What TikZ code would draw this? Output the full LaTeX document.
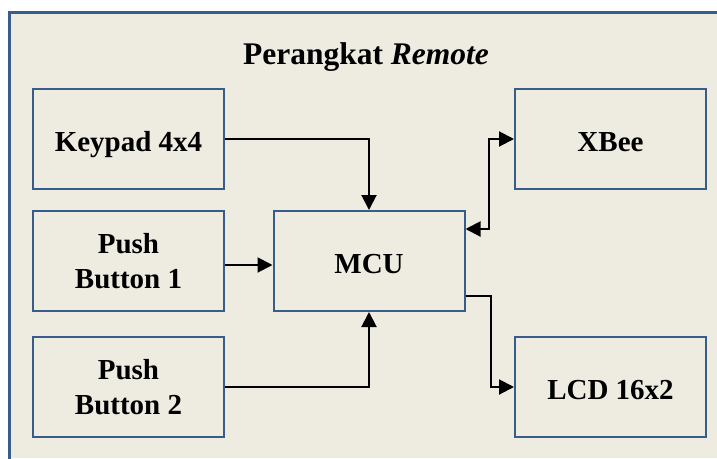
\documentclass[tikz,border=0pt]{standalone}
\usepackage{fontspec}
\setmainfont{Liberation Serif}
\usetikzlibrary{arrows.meta}
\definecolor{bgtan}{HTML}{EEECE1}
\definecolor{frameblue}{HTML}{385D8A}
\begin{document}
\begin{tikzpicture}[x=1pt,y=-1pt,
  blockbox/.style={draw=frameblue,line width=2pt,minimum width=191pt,minimum height=100pt,
    align=center,font=\fontsize{29}{35}\selectfont\bfseries,inner sep=0pt},
  oneline/.style={text height=24pt,text depth=0pt},
  arr/.style={line width=2pt,-{Triangle[length=15pt,width=15pt]}},
  darr/.style={line width=2pt,{Triangle[length=15pt,width=15pt]}-{Triangle[length=15pt,width=15pt]}}]
\useasboundingbox (0,0) rectangle (717,458);
\fill[white] (0,0) rectangle (717,458);
\fill[bgtan] (9.5,12.5) rectangle (717,458);
\draw[frameblue,line width=3.2pt] (9.5,470) -- (9.5,12.5) -- (730,12.5);
\node[font=\fontsize{31.5}{38}\selectfont\bfseries,anchor=base] (title) at (366,64) {Perangkat \textit{Remote}};
\node[blockbox,oneline] (keypad) at (128.5,139) {Keypad 4x4};
\node[blockbox] (pb1) at (128.5,261) {Push\\Button 1};
\node[blockbox] (pb2) at (128.5,387) {Push\\Button 2};
\node[blockbox,oneline] (mcu) at (369,261) {MCU};
\node[blockbox,oneline] (xbee) at (610.5,139) {XBee};
\node[blockbox,oneline] (lcd) at (610.5,387) {LCD 16x2};
\draw[arr] (keypad.east) -| (mcu.north);
\draw[arr] (pb1.east |- 0,265) -- (mcu.west |- 0,265);
\draw[arr] (pb2.east) -| (mcu.south);
\draw[darr] ([yshift=-19pt]mcu.north east) -- ++(23,0) |- (xbee.west);
\draw[arr] ([yshift=16pt]mcu.south east) -- ++(25,0) |- (lcd.west);
\end{tikzpicture}
\end{document}
